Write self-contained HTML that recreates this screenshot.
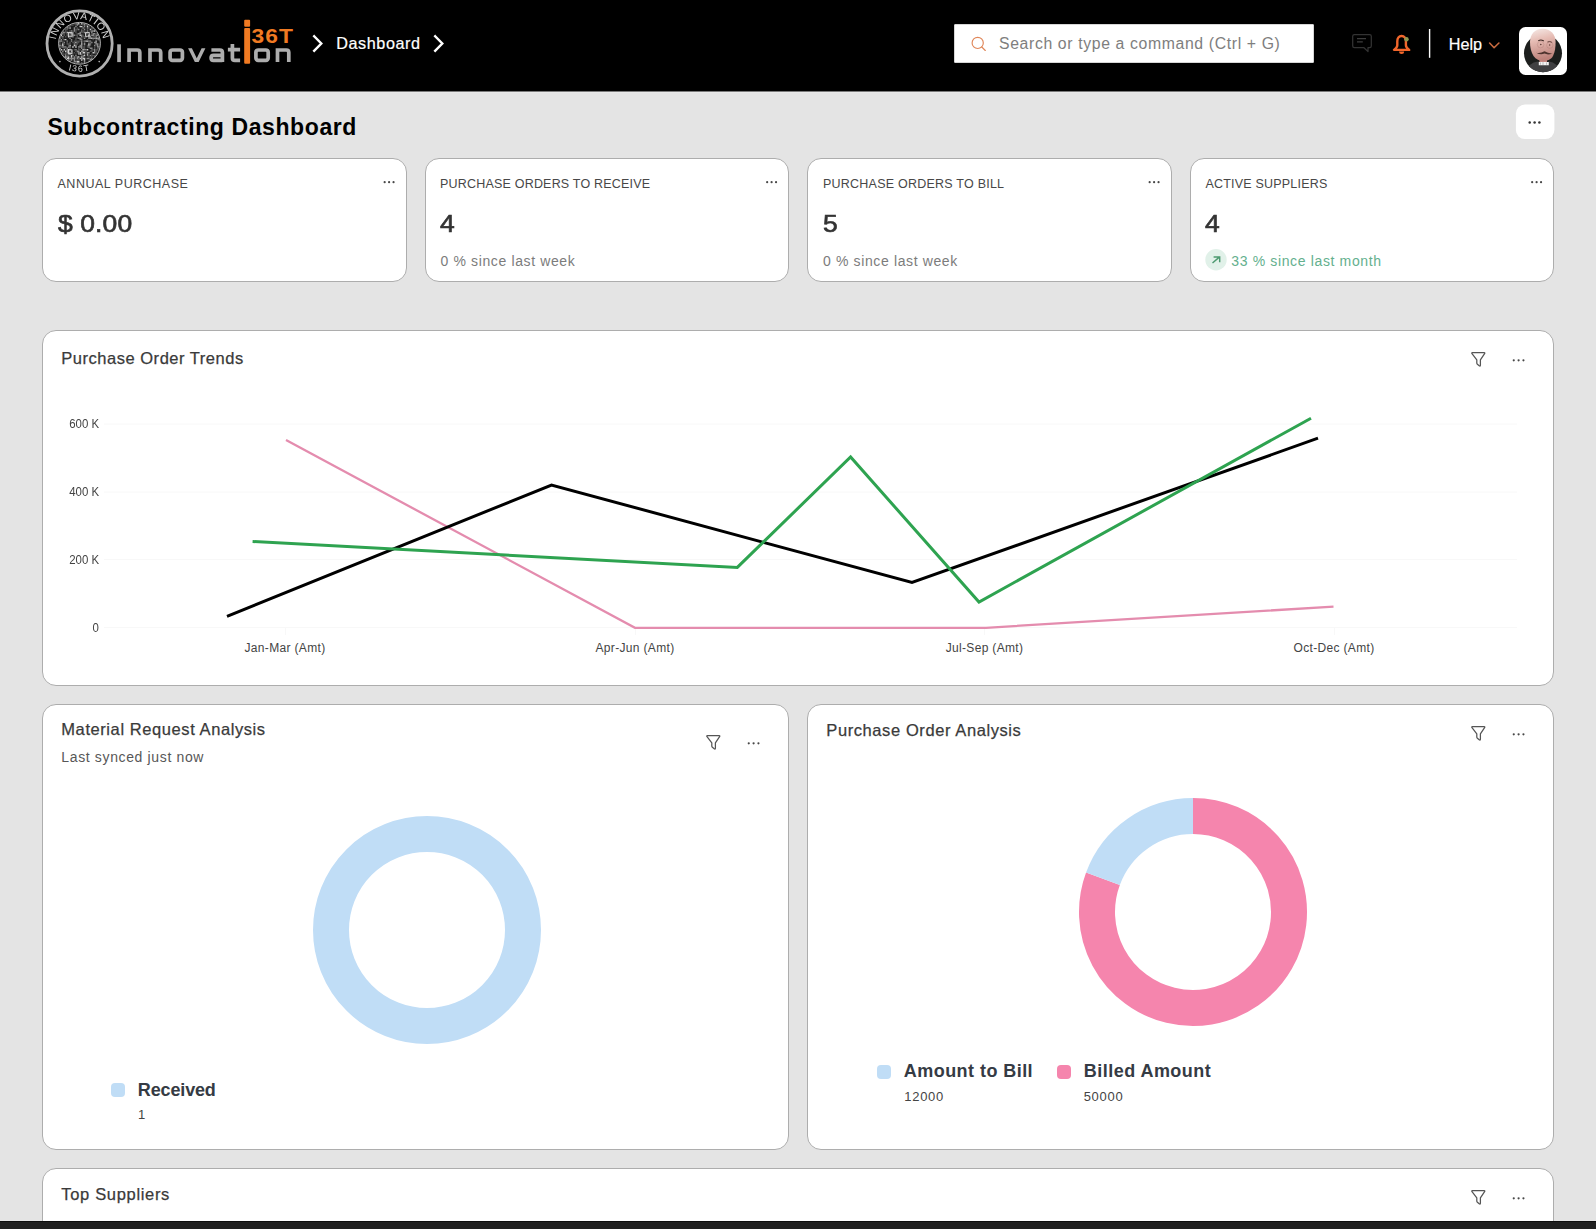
<!DOCTYPE html>
<html>
<head>
<meta charset="utf-8">
<title>Subcontracting Dashboard</title>
<style>
*{box-sizing:border-box;margin:0;padding:0}
html,body{width:1596px;height:1229px;overflow:hidden}
body{background:#e4e4e4;font-family:"Liberation Sans",sans-serif;position:relative;color:#333}
.abs{position:absolute;white-space:nowrap}
#hdr{left:0;top:0;width:1596px;height:91px;background:#000}
.card{position:absolute;background:#fff;border:1px solid #adadad;border-radius:14px}
.lbl{font-size:12.5px;color:#474747;letter-spacing:.2px;line-height:14px}
.val{font-size:24.500px;font-weight:normal;-webkit-text-stroke:.650px #333;color:#333;line-height:26px;transform:scaleX(1.080);transform-origin:0 0}
.sub{font-size:14px;color:#7c7c7c;line-height:16px;letter-spacing:.630px}
.ttl{font-size:16.500px;color:#3a3a3a;line-height:20px;letter-spacing:.520px;-webkit-text-stroke:.250px #3a3a3a}
.dots{position:absolute;width:12px;height:3px}
.dots i{position:absolute;top:0;width:2.400px;height:2.400px;border-radius:50%;background:#444}
.dots i:nth-child(1){left:0}.dots i:nth-child(2){left:4.600px}.dots i:nth-child(3){left:9.200px}
.dots.w i:nth-child(2){left:4.850px}.dots.w i:nth-child(3){left:9.700px}
.ax{font-size:12px;color:#444;line-height:12px;letter-spacing:.330px}
.ay{font-size:12.300px;color:#444;line-height:12px;position:absolute;white-space:nowrap;right:1497px;transform:scaleX(.930);transform-origin:100% 0}
.leg{font-size:18px;font-weight:bold;color:#353b44;line-height:20px;letter-spacing:.3px}
.legv{font-size:13px;color:#444;line-height:14px;letter-spacing:.700px}
.sq{position:absolute;width:14px;height:14px;border-radius:4px}
</style>
</head>
<body>
<!-- HEADER -->
<div id="hdr" class="abs"></div>
<div class="abs" style="left:0;top:91px;width:1596px;height:1px;background:#7a7a7a"></div><div class="abs" style="left:0;top:92px;width:1596px;height:1px;background:#e8e8e8"></div>
<svg class="abs" style="left:0;top:0" width="1596" height="91" viewBox="0 0 1596 91">
  <!-- logo -->
  <!--LOGO-START--><g id="logo">
    <defs><clipPath id="qc"><circle cx="79.5" cy="43.300" r="20.300"/></clipPath>
    <path id="arcT" d="M 56.100 47.400 A 23.800 23.800 0 1 1 102.900 47.400"/>
    <path id="arcB" d="M 62.500 68.200 Q 79.500 75.200 96.500 68.200"/></defs>
    <circle cx="79.600" cy="43.500" r="32.600" fill="none" stroke="#b0b0b0" stroke-width="2.800"/>
    <circle cx="79.500" cy="43.300" r="21" fill="#1c1c1c"/>
    <g clip-path="url(#qc)"><path fill="#cfcfcf" d="M59.2 40.4h1.45v1.45h-1.45zM59.2 44.8h1.45v1.45h-1.45zM59.2 47.6h1.45v1.45h-1.45zM60.6 33.1h1.45v1.45h-1.45zM60.6 34.6h1.45v1.45h-1.45zM60.6 49.1h1.45v1.45h-1.45zM62.1 43.3h1.45v1.45h-1.45zM62.1 44.8h1.45v1.45h-1.45zM63.5 49.1h1.45v1.45h-1.45zM65.0 38.9h1.45v1.45h-1.45zM65.0 50.5h1.45v1.45h-1.45zM65.0 56.3h1.45v1.45h-1.45zM66.5 31.7h1.45v1.45h-1.45zM66.5 57.8h1.45v1.45h-1.45zM67.9 36.0h1.45v1.45h-1.45zM67.9 49.1h1.45v1.45h-1.45zM67.9 50.5h1.45v1.45h-1.45zM67.9 56.3h1.45v1.45h-1.45zM67.9 57.8h1.45v1.45h-1.45zM69.3 27.3h1.45v1.45h-1.45zM69.3 44.8h1.45v1.45h-1.45zM69.3 53.4h1.45v1.45h-1.45zM69.3 60.7h1.45v1.45h-1.45zM70.8 54.9h1.45v1.45h-1.45zM70.8 56.3h1.45v1.45h-1.45zM72.2 46.2h1.45v1.45h-1.45zM73.7 44.8h1.45v1.45h-1.45zM75.2 41.8h1.45v1.45h-1.45zM75.2 46.2h1.45v1.45h-1.45zM76.6 60.7h1.45v1.45h-1.45zM78.0 23.0h1.45v1.45h-1.45zM78.0 56.3h1.45v1.45h-1.45zM78.0 60.7h1.45v1.45h-1.45zM79.5 25.9h1.45v1.45h-1.45zM79.5 34.6h1.45v1.45h-1.45zM79.5 52.0h1.45v1.45h-1.45zM79.5 53.4h1.45v1.45h-1.45zM79.5 57.8h1.45v1.45h-1.45zM81.0 23.0h1.45v1.45h-1.45zM81.0 25.9h1.45v1.45h-1.45zM81.0 43.3h1.45v1.45h-1.45zM81.0 56.3h1.45v1.45h-1.45zM81.0 59.2h1.45v1.45h-1.45zM82.4 49.1h1.45v1.45h-1.45zM82.4 52.0h1.45v1.45h-1.45zM82.4 57.8h1.45v1.45h-1.45zM83.8 43.3h1.45v1.45h-1.45zM83.8 52.0h1.45v1.45h-1.45zM83.8 54.9h1.45v1.45h-1.45zM83.8 57.8h1.45v1.45h-1.45zM83.8 59.2h1.45v1.45h-1.45zM85.3 40.4h1.45v1.45h-1.45zM86.8 25.9h1.45v1.45h-1.45zM86.8 40.4h1.45v1.45h-1.45zM86.8 49.1h1.45v1.45h-1.45zM86.8 53.4h1.45v1.45h-1.45zM88.2 34.6h1.45v1.45h-1.45zM88.2 43.3h1.45v1.45h-1.45zM88.2 44.8h1.45v1.45h-1.45zM89.7 28.8h1.45v1.45h-1.45zM89.7 59.2h1.45v1.45h-1.45zM91.1 25.9h1.45v1.45h-1.45zM91.1 37.5h1.45v1.45h-1.45zM91.1 59.2h1.45v1.45h-1.45zM92.5 52.0h1.45v1.45h-1.45zM94.0 30.2h1.45v1.45h-1.45zM95.4 37.5h1.45v1.45h-1.45zM95.4 40.4h1.45v1.45h-1.45zM96.9 33.1h1.45v1.45h-1.45zM98.3 37.5h1.45v1.45h-1.45zM98.3 38.9h1.45v1.45h-1.45zM98.3 46.2h1.45v1.45h-1.45z"/>
<path fill="#8c8c8c" d="M59.2 36.0h1.45v1.45h-1.45zM59.2 37.5h1.45v1.45h-1.45zM60.6 38.9h1.45v1.45h-1.45zM60.6 40.4h1.45v1.45h-1.45zM60.6 52.0h1.45v1.45h-1.45zM62.1 30.2h1.45v1.45h-1.45zM62.1 31.7h1.45v1.45h-1.45zM62.1 33.1h1.45v1.45h-1.45zM62.1 36.0h1.45v1.45h-1.45zM62.1 46.2h1.45v1.45h-1.45zM62.1 50.5h1.45v1.45h-1.45zM62.1 54.9h1.45v1.45h-1.45zM63.5 31.7h1.45v1.45h-1.45zM63.5 38.9h1.45v1.45h-1.45zM63.5 41.8h1.45v1.45h-1.45zM63.5 46.2h1.45v1.45h-1.45zM63.5 56.3h1.45v1.45h-1.45zM65.0 46.2h1.45v1.45h-1.45zM65.0 53.4h1.45v1.45h-1.45zM65.0 54.9h1.45v1.45h-1.45zM66.5 25.9h1.45v1.45h-1.45zM66.5 27.3h1.45v1.45h-1.45zM66.5 40.4h1.45v1.45h-1.45zM66.5 47.6h1.45v1.45h-1.45zM66.5 49.1h1.45v1.45h-1.45zM66.5 50.5h1.45v1.45h-1.45zM66.5 52.0h1.45v1.45h-1.45zM66.5 56.3h1.45v1.45h-1.45zM67.9 46.2h1.45v1.45h-1.45zM67.9 52.0h1.45v1.45h-1.45zM67.9 53.4h1.45v1.45h-1.45zM67.9 59.2h1.45v1.45h-1.45zM69.3 24.4h1.45v1.45h-1.45zM69.3 31.7h1.45v1.45h-1.45zM69.3 33.1h1.45v1.45h-1.45zM69.3 37.5h1.45v1.45h-1.45zM69.3 46.2h1.45v1.45h-1.45zM69.3 49.1h1.45v1.45h-1.45zM69.3 52.0h1.45v1.45h-1.45zM69.3 57.8h1.45v1.45h-1.45zM70.8 30.2h1.45v1.45h-1.45zM70.8 33.1h1.45v1.45h-1.45zM70.8 38.9h1.45v1.45h-1.45zM70.8 40.4h1.45v1.45h-1.45zM70.8 50.5h1.45v1.45h-1.45zM70.8 57.8h1.45v1.45h-1.45zM70.8 59.2h1.45v1.45h-1.45zM72.2 31.7h1.45v1.45h-1.45zM72.2 33.1h1.45v1.45h-1.45zM72.2 34.6h1.45v1.45h-1.45zM72.2 36.0h1.45v1.45h-1.45zM72.2 54.9h1.45v1.45h-1.45zM72.2 57.8h1.45v1.45h-1.45zM73.7 27.3h1.45v1.45h-1.45zM73.7 28.8h1.45v1.45h-1.45zM73.7 30.2h1.45v1.45h-1.45zM73.7 34.6h1.45v1.45h-1.45zM73.7 43.3h1.45v1.45h-1.45zM73.7 56.3h1.45v1.45h-1.45zM73.7 57.8h1.45v1.45h-1.45zM73.7 59.2h1.45v1.45h-1.45zM73.7 60.7h1.45v1.45h-1.45zM75.2 23.0h1.45v1.45h-1.45zM75.2 25.9h1.45v1.45h-1.45zM75.2 44.8h1.45v1.45h-1.45zM75.2 49.1h1.45v1.45h-1.45zM75.2 54.9h1.45v1.45h-1.45zM75.2 60.7h1.45v1.45h-1.45zM76.6 23.0h1.45v1.45h-1.45zM76.6 24.4h1.45v1.45h-1.45zM76.6 50.5h1.45v1.45h-1.45zM76.6 56.3h1.45v1.45h-1.45zM76.6 57.8h1.45v1.45h-1.45zM76.6 62.1h1.45v1.45h-1.45zM78.0 28.8h1.45v1.45h-1.45zM78.0 33.1h1.45v1.45h-1.45zM78.0 37.5h1.45v1.45h-1.45zM78.0 46.2h1.45v1.45h-1.45zM78.0 50.5h1.45v1.45h-1.45zM78.0 52.0h1.45v1.45h-1.45zM78.0 53.4h1.45v1.45h-1.45zM78.0 62.1h1.45v1.45h-1.45zM79.5 31.7h1.45v1.45h-1.45zM79.5 33.1h1.45v1.45h-1.45zM79.5 37.5h1.45v1.45h-1.45zM79.5 38.9h1.45v1.45h-1.45zM79.5 44.8h1.45v1.45h-1.45zM79.5 46.2h1.45v1.45h-1.45zM81.0 30.2h1.45v1.45h-1.45zM81.0 34.6h1.45v1.45h-1.45zM81.0 36.0h1.45v1.45h-1.45zM81.0 38.9h1.45v1.45h-1.45zM81.0 40.4h1.45v1.45h-1.45zM81.0 41.8h1.45v1.45h-1.45zM81.0 44.8h1.45v1.45h-1.45zM81.0 46.2h1.45v1.45h-1.45zM81.0 47.6h1.45v1.45h-1.45zM81.0 50.5h1.45v1.45h-1.45zM81.0 53.4h1.45v1.45h-1.45zM81.0 57.8h1.45v1.45h-1.45zM82.4 23.0h1.45v1.45h-1.45zM82.4 27.3h1.45v1.45h-1.45zM82.4 50.5h1.45v1.45h-1.45zM82.4 54.9h1.45v1.45h-1.45zM82.4 56.3h1.45v1.45h-1.45zM83.8 23.0h1.45v1.45h-1.45zM83.8 24.4h1.45v1.45h-1.45zM83.8 25.9h1.45v1.45h-1.45zM83.8 28.8h1.45v1.45h-1.45zM83.8 31.7h1.45v1.45h-1.45zM83.8 37.5h1.45v1.45h-1.45zM83.8 40.4h1.45v1.45h-1.45zM83.8 49.1h1.45v1.45h-1.45zM83.8 53.4h1.45v1.45h-1.45zM83.8 60.7h1.45v1.45h-1.45zM83.8 62.1h1.45v1.45h-1.45zM85.3 33.1h1.45v1.45h-1.45zM85.3 36.0h1.45v1.45h-1.45zM85.3 49.1h1.45v1.45h-1.45zM86.8 24.4h1.45v1.45h-1.45zM86.8 27.3h1.45v1.45h-1.45zM86.8 30.2h1.45v1.45h-1.45zM86.8 52.0h1.45v1.45h-1.45zM86.8 54.9h1.45v1.45h-1.45zM86.8 57.8h1.45v1.45h-1.45zM88.2 36.0h1.45v1.45h-1.45zM88.2 37.5h1.45v1.45h-1.45zM88.2 40.4h1.45v1.45h-1.45zM88.2 46.2h1.45v1.45h-1.45zM88.2 52.0h1.45v1.45h-1.45zM88.2 57.8h1.45v1.45h-1.45zM88.2 60.7h1.45v1.45h-1.45zM89.7 36.0h1.45v1.45h-1.45zM89.7 37.5h1.45v1.45h-1.45zM89.7 40.4h1.45v1.45h-1.45zM89.7 43.3h1.45v1.45h-1.45zM89.7 47.6h1.45v1.45h-1.45zM89.7 54.9h1.45v1.45h-1.45zM91.1 30.2h1.45v1.45h-1.45zM91.1 31.7h1.45v1.45h-1.45zM91.1 34.6h1.45v1.45h-1.45zM91.1 41.8h1.45v1.45h-1.45zM91.1 47.6h1.45v1.45h-1.45zM91.1 57.8h1.45v1.45h-1.45zM92.5 27.3h1.45v1.45h-1.45zM92.5 30.2h1.45v1.45h-1.45zM92.5 33.1h1.45v1.45h-1.45zM92.5 34.6h1.45v1.45h-1.45zM92.5 37.5h1.45v1.45h-1.45zM94.0 28.8h1.45v1.45h-1.45zM94.0 33.1h1.45v1.45h-1.45zM94.0 37.5h1.45v1.45h-1.45zM94.0 41.8h1.45v1.45h-1.45zM94.0 44.8h1.45v1.45h-1.45zM94.0 49.1h1.45v1.45h-1.45zM94.0 50.5h1.45v1.45h-1.45zM94.0 52.0h1.45v1.45h-1.45zM94.0 56.3h1.45v1.45h-1.45zM95.4 34.6h1.45v1.45h-1.45zM95.4 36.0h1.45v1.45h-1.45zM95.4 41.8h1.45v1.45h-1.45zM95.4 43.3h1.45v1.45h-1.45zM95.4 54.9h1.45v1.45h-1.45zM96.9 34.6h1.45v1.45h-1.45zM96.9 37.5h1.45v1.45h-1.45zM96.9 43.3h1.45v1.45h-1.45zM96.9 44.8h1.45v1.45h-1.45zM96.9 46.2h1.45v1.45h-1.45z"/>
<path fill="#505050" d="M59.2 41.8h1.45v1.45h-1.45zM59.2 43.3h1.45v1.45h-1.45zM59.2 46.2h1.45v1.45h-1.45zM59.2 49.1h1.45v1.45h-1.45zM60.6 36.0h1.45v1.45h-1.45zM60.6 44.8h1.45v1.45h-1.45zM60.6 46.2h1.45v1.45h-1.45zM62.1 37.5h1.45v1.45h-1.45zM62.1 40.4h1.45v1.45h-1.45zM62.1 41.8h1.45v1.45h-1.45zM62.1 49.1h1.45v1.45h-1.45zM62.1 52.0h1.45v1.45h-1.45zM62.1 53.4h1.45v1.45h-1.45zM63.5 33.1h1.45v1.45h-1.45zM63.5 34.6h1.45v1.45h-1.45zM63.5 43.3h1.45v1.45h-1.45zM63.5 47.6h1.45v1.45h-1.45zM63.5 53.4h1.45v1.45h-1.45zM65.0 28.8h1.45v1.45h-1.45zM65.0 30.2h1.45v1.45h-1.45zM65.0 31.7h1.45v1.45h-1.45zM65.0 36.0h1.45v1.45h-1.45zM65.0 47.6h1.45v1.45h-1.45zM65.0 52.0h1.45v1.45h-1.45zM66.5 28.8h1.45v1.45h-1.45zM66.5 33.1h1.45v1.45h-1.45zM66.5 34.6h1.45v1.45h-1.45zM66.5 41.8h1.45v1.45h-1.45zM66.5 43.3h1.45v1.45h-1.45zM66.5 53.4h1.45v1.45h-1.45zM66.5 54.9h1.45v1.45h-1.45zM66.5 59.2h1.45v1.45h-1.45zM67.9 25.9h1.45v1.45h-1.45zM67.9 27.3h1.45v1.45h-1.45zM67.9 31.7h1.45v1.45h-1.45zM67.9 33.1h1.45v1.45h-1.45zM67.9 43.3h1.45v1.45h-1.45zM67.9 44.8h1.45v1.45h-1.45zM67.9 54.9h1.45v1.45h-1.45zM69.3 25.9h1.45v1.45h-1.45zM69.3 30.2h1.45v1.45h-1.45zM69.3 34.6h1.45v1.45h-1.45zM69.3 36.0h1.45v1.45h-1.45zM69.3 41.8h1.45v1.45h-1.45zM69.3 43.3h1.45v1.45h-1.45zM69.3 47.6h1.45v1.45h-1.45zM69.3 56.3h1.45v1.45h-1.45zM69.3 59.2h1.45v1.45h-1.45zM70.8 24.4h1.45v1.45h-1.45zM70.8 31.7h1.45v1.45h-1.45zM70.8 36.0h1.45v1.45h-1.45zM70.8 52.0h1.45v1.45h-1.45zM70.8 53.4h1.45v1.45h-1.45zM72.2 24.4h1.45v1.45h-1.45zM72.2 30.2h1.45v1.45h-1.45zM72.2 41.8h1.45v1.45h-1.45zM72.2 53.4h1.45v1.45h-1.45zM72.2 62.1h1.45v1.45h-1.45zM73.7 23.0h1.45v1.45h-1.45zM73.7 40.4h1.45v1.45h-1.45zM73.7 41.8h1.45v1.45h-1.45zM73.7 49.1h1.45v1.45h-1.45zM73.7 52.0h1.45v1.45h-1.45zM73.7 62.1h1.45v1.45h-1.45zM75.2 24.4h1.45v1.45h-1.45zM75.2 28.8h1.45v1.45h-1.45zM75.2 30.2h1.45v1.45h-1.45zM75.2 31.7h1.45v1.45h-1.45zM75.2 34.6h1.45v1.45h-1.45zM75.2 37.5h1.45v1.45h-1.45zM75.2 38.9h1.45v1.45h-1.45zM75.2 40.4h1.45v1.45h-1.45zM75.2 43.3h1.45v1.45h-1.45zM75.2 50.5h1.45v1.45h-1.45zM75.2 53.4h1.45v1.45h-1.45zM75.2 56.3h1.45v1.45h-1.45zM75.2 57.8h1.45v1.45h-1.45zM75.2 62.1h1.45v1.45h-1.45zM76.6 27.3h1.45v1.45h-1.45zM76.6 28.8h1.45v1.45h-1.45zM76.6 33.1h1.45v1.45h-1.45zM76.6 34.6h1.45v1.45h-1.45zM76.6 36.0h1.45v1.45h-1.45zM76.6 37.5h1.45v1.45h-1.45zM76.6 40.4h1.45v1.45h-1.45zM76.6 41.8h1.45v1.45h-1.45zM76.6 43.3h1.45v1.45h-1.45zM76.6 52.0h1.45v1.45h-1.45zM76.6 59.2h1.45v1.45h-1.45zM78.0 40.4h1.45v1.45h-1.45zM78.0 41.8h1.45v1.45h-1.45zM78.0 47.6h1.45v1.45h-1.45zM78.0 49.1h1.45v1.45h-1.45zM78.0 57.8h1.45v1.45h-1.45zM78.0 59.2h1.45v1.45h-1.45zM79.5 24.4h1.45v1.45h-1.45zM79.5 40.4h1.45v1.45h-1.45zM79.5 49.1h1.45v1.45h-1.45zM79.5 56.3h1.45v1.45h-1.45zM81.0 28.8h1.45v1.45h-1.45zM81.0 31.7h1.45v1.45h-1.45zM81.0 37.5h1.45v1.45h-1.45zM81.0 52.0h1.45v1.45h-1.45zM81.0 54.9h1.45v1.45h-1.45zM81.0 62.1h1.45v1.45h-1.45zM82.4 24.4h1.45v1.45h-1.45zM82.4 30.2h1.45v1.45h-1.45zM82.4 31.7h1.45v1.45h-1.45zM82.4 34.6h1.45v1.45h-1.45zM82.4 36.0h1.45v1.45h-1.45zM82.4 40.4h1.45v1.45h-1.45zM82.4 46.2h1.45v1.45h-1.45zM82.4 47.6h1.45v1.45h-1.45zM83.8 27.3h1.45v1.45h-1.45zM83.8 30.2h1.45v1.45h-1.45zM83.8 36.0h1.45v1.45h-1.45zM83.8 41.8h1.45v1.45h-1.45zM83.8 44.8h1.45v1.45h-1.45zM83.8 46.2h1.45v1.45h-1.45zM83.8 47.6h1.45v1.45h-1.45zM83.8 50.5h1.45v1.45h-1.45zM83.8 56.3h1.45v1.45h-1.45zM85.3 23.0h1.45v1.45h-1.45zM85.3 24.4h1.45v1.45h-1.45zM85.3 31.7h1.45v1.45h-1.45zM85.3 50.5h1.45v1.45h-1.45zM85.3 52.0h1.45v1.45h-1.45zM85.3 57.8h1.45v1.45h-1.45zM86.8 28.8h1.45v1.45h-1.45zM86.8 33.1h1.45v1.45h-1.45zM86.8 38.9h1.45v1.45h-1.45zM86.8 44.8h1.45v1.45h-1.45zM86.8 46.2h1.45v1.45h-1.45zM88.2 24.4h1.45v1.45h-1.45zM88.2 25.9h1.45v1.45h-1.45zM88.2 27.3h1.45v1.45h-1.45zM88.2 31.7h1.45v1.45h-1.45zM88.2 41.8h1.45v1.45h-1.45zM88.2 53.4h1.45v1.45h-1.45zM88.2 54.9h1.45v1.45h-1.45zM88.2 56.3h1.45v1.45h-1.45zM89.7 30.2h1.45v1.45h-1.45zM89.7 34.6h1.45v1.45h-1.45zM89.7 41.8h1.45v1.45h-1.45zM89.7 44.8h1.45v1.45h-1.45zM89.7 50.5h1.45v1.45h-1.45zM89.7 57.8h1.45v1.45h-1.45zM91.1 27.3h1.45v1.45h-1.45zM91.1 28.8h1.45v1.45h-1.45zM91.1 33.1h1.45v1.45h-1.45zM91.1 49.1h1.45v1.45h-1.45zM91.1 50.5h1.45v1.45h-1.45zM91.1 53.4h1.45v1.45h-1.45zM91.1 54.9h1.45v1.45h-1.45zM91.1 56.3h1.45v1.45h-1.45zM92.5 36.0h1.45v1.45h-1.45zM92.5 38.9h1.45v1.45h-1.45zM92.5 49.1h1.45v1.45h-1.45zM92.5 54.9h1.45v1.45h-1.45zM94.0 34.6h1.45v1.45h-1.45zM94.0 36.0h1.45v1.45h-1.45zM94.0 46.2h1.45v1.45h-1.45zM94.0 47.6h1.45v1.45h-1.45zM94.0 54.9h1.45v1.45h-1.45zM95.4 33.1h1.45v1.45h-1.45zM95.4 38.9h1.45v1.45h-1.45zM95.4 44.8h1.45v1.45h-1.45zM95.4 49.1h1.45v1.45h-1.45zM95.4 50.5h1.45v1.45h-1.45zM95.4 52.0h1.45v1.45h-1.45zM95.4 53.4h1.45v1.45h-1.45zM96.9 38.9h1.45v1.45h-1.45zM96.9 47.6h1.45v1.45h-1.45zM96.9 49.1h1.45v1.45h-1.45zM98.3 43.3h1.45v1.45h-1.45zM98.3 44.8h1.45v1.45h-1.45zM98.3 47.6h1.45v1.45h-1.45z"/>
      <g fill="none" stroke="#dcdcdc" stroke-width="0.900"><rect x="68.400" y="32.600" width="3.600" height="3.600"/><rect x="85.600" y="32.600" width="3.600" height="3.600"/><rect x="68.400" y="49.800" width="3.600" height="3.600"/></g>
    </g>
    <circle cx="79.500" cy="43.300" r="20.900" fill="none" stroke="#c4c4c4" stroke-width="0.900"/>
    <text style="filter:grayscale(1)" font-family="Liberation Sans" font-size="10.200" fill="#d4d4d4" letter-spacing="0.600"><textPath href="#arcT" startOffset="50%" text-anchor="middle">INNOVATION</textPath></text>
    <text style="filter:grayscale(1)" font-family="Liberation Sans" font-size="8.800" fill="#d4d4d4" letter-spacing="1.300"><textPath href="#arcB" startOffset="50%" text-anchor="middle">I36T</textPath></text>
    <circle cx="59.900" cy="61.600" r="0.800" fill="#bbb"/><circle cx="99.200" cy="61.600" r="0.800" fill="#bbb"/>
    <g fill="none" stroke="#adadad" stroke-width="3.700" stroke-linejoin="round">
      <path d="M119.050 44.300V62.100"/>
      <path d="M129.100 62.100V48.300M129.100 50H137.300Q139.800 50 139.800 52.500V62.100"/>
      <path d="M150 62.100V48.300M150 50H158.200Q160.700 50 160.700 52.500V62.100"/>
      <rect x="170.100" y="50" width="12.300" height="10.400" rx="2.300"/>
      <path d="M211.400 50H219.900Q222.400 50 222.400 52.500V62.100M222.400 55.300H213.500Q211.100 55.300 211.100 57.700V58Q211.100 60.400 213.500 60.400H222.400"/>
      <path d="M232.400 44V57.900Q232.400 60.400 234.900 60.400H240.100M227.900 49.700H240.100"/>
      <rect x="255.900" y="50" width="12.300" height="10.400" rx="2.300"/>
      <path d="M277.500 62.100V48.300M277.500 50H286.300Q288.800 50 288.800 52.500V62.100"/>
    </g>
    <path d="M188.100 48.300H191.900L196.750 58.300L201.600 48.300H205.400L198.650 62.100H194.850Z" fill="#adadad"/>
    <rect x="244.200" y="19.800" width="5.900" height="6.900" rx="1" fill="#f07a22"/>
    <rect x="244.200" y="28" width="5.900" height="35.700" rx="1" fill="#f07a22"/>
    <text transform="translate(251.600,43.200) scale(1.140,1)" font-family="Liberation Sans" font-weight="bold" font-size="20" fill="#f07a22" letter-spacing="0.900">36T</text>
  </g><!--LOGO-END-->
  <!-- breadcrumb chevrons -->
  <path d="M314.200 36.300L321.300 43.500L314.200 50.700" fill="none" stroke="#fff" stroke-width="2.400" stroke-linecap="square" stroke-linejoin="miter"/>
  <path d="M435.200 36.300L442.300 43.500L435.200 50.700" fill="none" stroke="#fff" stroke-width="2.400" stroke-linecap="square" stroke-linejoin="miter"/>
</svg>
<div class="abs" style="left:336.200px;top:33.200px;font-size:16.200px;line-height:20px;color:#fff;letter-spacing:.580px;-webkit-text-stroke:.200px #fff">Dashboard</div>

<!-- search -->
<div class="abs" style="left:954px;top:24px;width:360px;height:38.500px;background:#fff;border:1px solid #d6d6d6;border-radius:1px"></div>
<svg class="abs" style="left:970px;top:35px" width="18" height="18" viewBox="0 0 18 18"><circle cx="7.700" cy="7.900" r="5.600" fill="none" stroke="#e0875a" stroke-width="1.150"/><path d="M11.800 12 L15.300 15.500" stroke="#e0875a" stroke-width="1.150" stroke-linecap="round"/></svg>
<div class="abs" style="left:999px;top:33.600px;font-size:15.800px;line-height:19px;color:#7e7e7e;letter-spacing:.630px">Search or type a command (Ctrl + G)</div>

<!-- right icons -->
<svg class="abs" style="left:1350px;top:32px" width="24" height="24" viewBox="0 0 24 24">
  <path d="M4.400 2.500H19.600Q21.300 2.500 21.300 4.200V14Q21.300 15.700 19.600 15.700H18V19.600L14 15.700H4.400Q2.700 15.700 2.700 14V4.200Q2.700 2.500 4.400 2.500Z" fill="none" stroke="#333" stroke-width="1.250" stroke-linejoin="round"/>
  <path d="M7 6.700H16M7 9.900H12.800" stroke="#3c3c3c" stroke-width="1.300"/>
</svg>
<svg class="abs" style="left:1389px;top:31px" width="26" height="26" viewBox="0 0 26 26">
  <path d="M12.600 5C9.900 5 8.300 7.200 8.300 10.200V14.300C8.300 16.300 6.900 17.500 5 18.900H20.200C18.300 17.500 16.900 16.300 16.900 14.300V10.200C16.900 7.200 15.300 5 12.600 5Z" fill="none" stroke="#f2662b" stroke-width="2.400" stroke-linejoin="round"/>
  <path d="M10.100 20.400a2.500 2.500 0 0 0 5 0Z" fill="#f2662b"/>
  <circle cx="17.500" cy="8.300" r="2.200" fill="#8f9852"/>
</svg>
<svg class="abs" style="left:1427px;top:28px" width="5" height="31"><rect x="1.900" y="1" width="1.400" height="28.800" fill="#fafafa"/></svg>
<div class="abs" style="left:1448.800px;top:33.700px;font-size:16.200px;line-height:20px;color:#fff;-webkit-text-stroke:.200px #fff">Help</div>
<svg class="abs" style="left:1487px;top:38px" width="14" height="14" viewBox="0 0 14 14"><path d="M2.600 5L7.100 9.700L11.900 5" fill="none" stroke="#c8693e" stroke-width="1.600" stroke-linecap="round" stroke-linejoin="round"/></svg>
<!-- avatar -->
<svg class="abs" style="left:1519px;top:27px" width="48" height="48" viewBox="0 0 48 48">
  <defs>
    <linearGradient id="skin" x1="0" y1="0" x2="0.200" y2="1"><stop offset="0" stop-color="#f6ebe8"/><stop offset=".400" stop-color="#e6bcb4"/><stop offset="1" stop-color="#bd827b"/></linearGradient>
    <clipPath id="avc"><path d="M5 26.300a19 19 0 0 0 38 0V0H5Z"/></clipPath>
  </defs>
  <rect width="48" height="48" rx="6.500" fill="#fff"/>
  <circle cx="24" cy="26.300" r="19" fill="#1c1e1d"/>
  <g clip-path="url(#avc)">
    <path d="M6 47Q9 35.500 19 34.500L24.500 36.500L30 34.500Q39 35.500 42 47Z" fill="#404042"/>
    <path d="M20.500 31h7.500v5.500h-7.500z" fill="#c98a84"/>
    <path d="M23.600 1.800C31.500 1.800 36.600 7.500 36.600 15C36.600 20 36 25 34 29C32.200 32.500 28.500 34 24.500 34C20.500 34 16.800 32.500 14.500 29C12 25 11 20 11 15C11 7.500 15.700 1.800 23.600 1.800Z" fill="url(#skin)"/>
    <path d="M19.700 13.600Q22 12.400 24.400 13.800" fill="none" stroke="#3a2623" stroke-width="1.100" stroke-linecap="round"/>
    <path d="M28.800 14.800Q30.800 13.800 32.800 15.200" fill="none" stroke="#6a4640" stroke-width="1" stroke-linecap="round"/>
    <circle cx="21.800" cy="17.400" r=".750" fill="#5a3a36"/><circle cx="30.600" cy="18" r=".750" fill="#6a4640"/>
    <circle cx="21.600" cy="17.600" r="3.300" fill="none" stroke="#8a5c56" stroke-width=".450" opacity=".450"/><circle cx="30.800" cy="18.200" r="3.200" fill="none" stroke="#8a5c56" stroke-width=".450" opacity=".450"/>
    <path d="M17.300 25.800Q21.500 26.800 25.500 24.300Q29.500 26.800 33.500 26.400Q29 28.300 25.500 26.600Q21.500 28.400 17.300 25.800Z" fill="#4e332e"/>
    <path d="M19.800 34.900h10v3.400h-10z" fill="#f4f4f4"/>
    <path d="M24 35.200v2.800M21.500 35.500v2.200M27.500 35.500v2.200" stroke="#999" stroke-width=".600"/>
  </g>
</svg>

<!-- PAGE TITLE -->
<div class="abs" id="ptitle" style="left:47.400px;top:111.750px;font-size:23px;font-weight:bold;line-height:30px;color:#000;letter-spacing:.600px">Subcontracting Dashboard</div>
<svg class="abs" style="left:1514px;top:103px" width="42" height="38"><rect x="1.900" y="1.600" width="38.500" height="34.500" rx="9" fill="#fff"/></svg>
<svg class="abs" style="left:1528px;top:121px" width="16" height="5" fill="#333"><circle cx="1.700" cy="1.500" r="1.250"/><circle cx="6.600" cy="1.500" r="1.250"/><circle cx="11.400" cy="1.500" r="1.250"/></svg>

<!-- NUMBER CARDS -->
<div class="card" style="left:42px;top:158px;width:365px;height:124px"></div>
<div class="card" style="left:425px;top:158px;width:364px;height:124px"></div>
<div class="card" style="left:807px;top:158px;width:365px;height:124px"></div>
<div class="card" style="left:1190px;top:158px;width:364px;height:124px"></div>

<div class="abs lbl" style="left:57.500px;top:177px;letter-spacing:.510px">ANNUAL PURCHASE</div>
<div class="abs lbl" style="left:440px;top:177px">PURCHASE ORDERS TO RECEIVE</div>
<div class="abs lbl" style="left:823px;top:177px;letter-spacing:.230px">PURCHASE ORDERS TO BILL</div>
<div class="abs lbl" style="left:1205.500px;top:177px">ACTIVE SUPPLIERS</div>
<svg class="abs" style="left:383px;top:181px" width="16" height="5" fill="#484848"><circle cx="1.65" cy="1.15" r="1.1"/><circle cx="6.10" cy="1.15" r="1.1"/><circle cx="10.55" cy="1.15" r="1.1"/></svg>
<svg class="abs" style="left:766px;top:181px" width="16" height="5" fill="#484848"><circle cx="1.15" cy="1.15" r="1.1"/><circle cx="5.60" cy="1.15" r="1.1"/><circle cx="10.05" cy="1.15" r="1.1"/></svg>
<svg class="abs" style="left:1148px;top:181px" width="16" height="5" fill="#484848"><circle cx="1.65" cy="1.15" r="1.1"/><circle cx="6.10" cy="1.15" r="1.1"/><circle cx="10.55" cy="1.15" r="1.1"/></svg>
<svg class="abs" style="left:1531px;top:181px" width="16" height="5" fill="#484848"><circle cx="1.15" cy="1.15" r="1.1"/><circle cx="5.60" cy="1.15" r="1.1"/><circle cx="10.05" cy="1.15" r="1.1"/></svg>

<div class="abs val" style="left:57.500px;top:211px;letter-spacing:.100px">$ 0.00</div>
<div class="abs val" style="left:440.300px;top:211px">4</div>
<div class="abs val" style="left:822.600px;top:211px">5</div>
<div class="abs val" style="left:1205.300px;top:211px">4</div>

<div class="abs sub" style="left:440.500px;top:253px">0 % since last week</div>
<div class="abs sub" style="left:823px;top:253px">0 % since last week</div>
<svg class="abs" style="left:1204px;top:248px" width="24" height="24" viewBox="1204 248 24 24"><circle cx="1216" cy="259.700" r="10.700" fill="#e1f1e9"/><path d="M1212.500 263L1219.600 256.900M1213.600 256.900H1219.700V262.300" fill="none" stroke="#4c9a70" stroke-width="1.450" stroke-linejoin="miter"/></svg>
<div class="abs sub" style="left:1231.300px;top:253px;color:#64b08e;letter-spacing:.640px">33 % since last month</div>

<!-- TRENDS CARD -->
<div class="card" style="left:42px;top:330px;width:1512px;height:356px"></div>
<div class="abs ttl" style="left:61.300px;top:348px">Purchase Order Trends</div>
<svg class="abs" style="left:42px;top:330px" width="1512" height="356" viewBox="42 330 1512 356">
  <g stroke="#f8f8f8" stroke-width="1">
    <path d="M104 424 H1517 M104 492 H1517 M104 559.500 H1517 M104 627.500 H1517"/>
    <path d="M285.500 627 V635 M635.500 627 V635 M984.500 627 V635 M1334.500 627 V635"/>
  </g>
  <polyline points="286,440 635,627.800 986,627.800 1333.500,606.600" fill="none" stroke="#e48cae" stroke-width="2.300" stroke-linejoin="miter"/>
  <polyline points="227,616.300 551.500,485 912,582.500 1318,438.200" fill="none" stroke="#000" stroke-width="3"/>
  <polyline points="252.600,541.500 737.300,567.400 850.600,457 979,602 1311,418.200" fill="none" stroke="#2ea350" stroke-width="3"/>
  <g id="f1" fill="none" stroke="#555" stroke-width="1.250" stroke-linejoin="round"><path d="M1472.400 352.700H1484.200Q1485.300 352.700 1484.600 353.700L1480.400 359.900V365Q1480.400 366.600 1479.200 365.800L1477.400 364.300Q1476.800 363.800 1476.800 363V359.900L1472 353.700Q1471.300 352.700 1472.400 352.700Z"/></g>
</svg>
<svg class="abs" style="left:1512px;top:359px" width="16" height="5" fill="#484848"><circle cx="1.75" cy="1.35" r="1.1"/><circle cx="6.60" cy="1.35" r="1.1"/><circle cx="11.45" cy="1.35" r="1.1"/></svg>
<div class="ay" style="top:418px">600 K</div>
<div class="ay" style="top:486px">400 K</div>
<div class="ay" style="top:553.500px">200 K</div>
<div class="ay" style="top:621.500px">0</div>
<div class="abs ax" style="left:185px;width:200px;text-align:center;top:642px">Jan-Mar (Amt)</div>
<div class="abs ax" style="left:535px;width:200px;text-align:center;top:642px">Apr-Jun (Amt)</div>
<div class="abs ax" style="left:884.500px;width:200px;text-align:center;top:642px">Jul-Sep (Amt)</div>
<div class="abs ax" style="left:1234px;width:200px;text-align:center;top:642px">Oct-Dec (Amt)</div>

<!-- MATERIAL REQUEST CARD -->
<div class="card" style="left:42px;top:704px;width:747px;height:446px"></div>
<div class="abs ttl" style="left:61.300px;top:719px;letter-spacing:.580px">Material Request Analysis</div>
<div class="abs" style="left:61.300px;top:749px;font-size:14px;line-height:16px;color:#575757;letter-spacing:.640px">Last synced just now</div>
<svg class="abs" style="left:700px;top:730px" width="26" height="24" viewBox="1465 347 26 24"><use href="#f1"/></svg>
<svg class="abs" style="left:747px;top:742px" width="16" height="5" fill="#484848"><circle cx="1.75" cy="1.35" r="1.1"/><circle cx="6.60" cy="1.35" r="1.1"/><circle cx="11.45" cy="1.35" r="1.1"/></svg>
<svg class="abs" style="left:302px;top:805px" width="250" height="250" viewBox="-125 -125 250 250"><circle r="96" fill="none" stroke="#c0ddf6" stroke-width="36"/></svg>
<div class="sq" style="left:110.500px;top:1082.500px;background:#c0ddf6"></div>
<div class="abs leg" style="left:137.800px;top:1079.500px;letter-spacing:-.140px">Received</div>
<div class="abs legv" style="left:138px;top:1108.400px">1</div>

<!-- PURCHASE ORDER ANALYSIS CARD -->
<div class="card" style="left:807px;top:704px;width:747px;height:446px"></div>
<div class="abs ttl" style="left:826.300px;top:720px;letter-spacing:.590px">Purchase Order Analysis</div>
<svg class="abs" style="left:1465px;top:721px" width="26" height="24" viewBox="1465 347 26 24"><use href="#f1"/></svg>
<svg class="abs" style="left:1512px;top:733px" width="16" height="5" fill="#484848"><circle cx="1.75" cy="1.35" r="1.1"/><circle cx="6.60" cy="1.35" r="1.1"/><circle cx="11.45" cy="1.35" r="1.1"/></svg>
<svg class="abs" style="left:1068px;top:787px" width="250" height="250" viewBox="-125 -125 250 250">
  <path d="M0 -96A96 96 0 1 1 -90.040 -33.300" fill="none" stroke="#f585ad" stroke-width="36"/>
  <path d="M0 -96A96 96 0 0 0 -90.040 -33.300" fill="none" stroke="#c0ddf6" stroke-width="36"/>
</svg>
<div class="sq" style="left:876.500px;top:1064.500px;background:#c0ddf6"></div>
<div class="abs leg" style="left:903.800px;top:1061.400px;letter-spacing:.450px">Amount to Bill</div>
<div class="abs legv" style="left:904.300px;top:1090.400px">12000</div>
<div class="sq" style="left:1056.500px;top:1064.500px;background:#f585ad"></div>
<div class="abs leg" style="left:1083.800px;top:1061.400px;letter-spacing:.470px">Billed Amount</div>
<div class="abs legv" style="left:1083.700px;top:1090.400px">50000</div>

<!-- TOP SUPPLIERS -->
<div class="card" style="left:42px;top:1168px;width:1512px;height:120px"></div>
<div class="abs ttl" style="left:61.300px;top:1184px;letter-spacing:.670px">Top Suppliers</div>
<svg class="abs" style="left:1465px;top:1185px" width="26" height="24" viewBox="1465 347 26 24"><use href="#f1"/></svg>
<svg class="abs" style="left:1512px;top:1197px" width="16" height="5" fill="#484848"><circle cx="1.75" cy="1.35" r="1.1"/><circle cx="6.60" cy="1.35" r="1.1"/><circle cx="11.45" cy="1.35" r="1.1"/></svg>

<!-- bottom bar -->
<div class="abs" style="left:0;top:1221px;width:1596px;height:8px;background:#202020;border-top:1px solid #0e0e0e"></div>
</body>
</html>
